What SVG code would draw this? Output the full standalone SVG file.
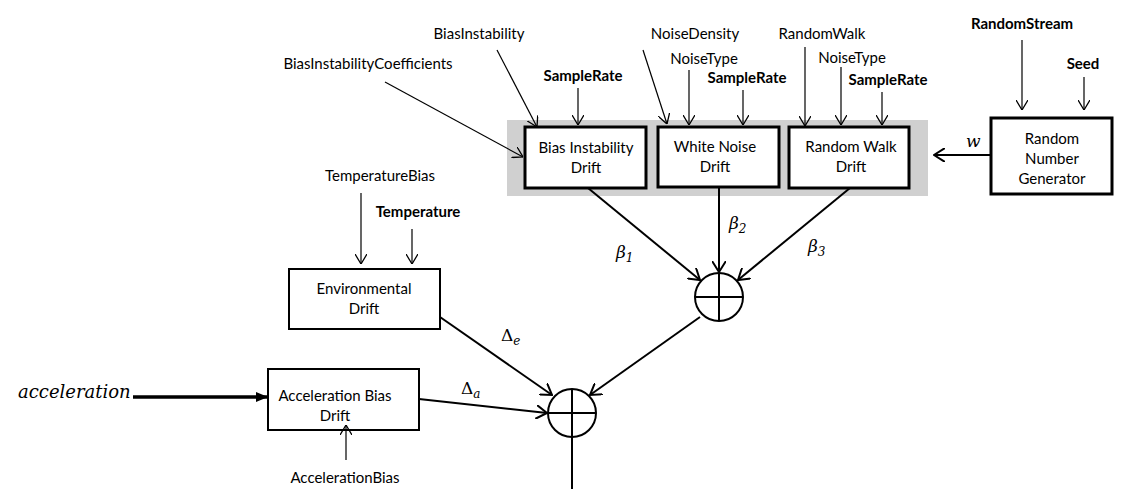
<svg xmlns="http://www.w3.org/2000/svg" width="1123" height="489" viewBox="0 0 1123 489">
<style>
.t{font-family:Lato,"Liberation Sans",sans-serif;font-size:15px;fill:#000;text-anchor:middle}
.b{font-weight:bold}
.box{fill:#fff;stroke:#000;stroke-width:3}
.box2{fill:#fff;stroke:#000;stroke-width:2}
.thin{stroke:#000;stroke-width:1.2;fill:none;marker-end:url(#a1)}
.thick{stroke:#000;stroke-width:2;fill:none;marker-end:url(#a2)}
.m{font-family:"DejaVu Serif","Liberation Serif",serif;font-style:italic;font-size:17px;fill:#000}
.sub{font-size:12px;font-style:italic}
.sum{fill:#fff;stroke:#000;stroke-width:2}
</style>
<defs>
<marker id="a1" viewBox="0 0 10 12" refX="10" refY="6" markerWidth="10" markerHeight="12" orient="auto" markerUnits="userSpaceOnUse"><path d="M0,0 L10,6 L0,12" fill="none" stroke="#000" stroke-width="1.3"/></marker>
<marker id="a2" viewBox="0 0 12 14" refX="11" refY="7" markerWidth="12" markerHeight="14" orient="auto" markerUnits="userSpaceOnUse"><path d="M0,0 L11,7 L0,14" fill="none" stroke="#000" stroke-width="2"/></marker>
<marker id="a3" viewBox="0 0 12 12" refX="12" refY="6" markerWidth="12" markerHeight="12" orient="auto" markerUnits="userSpaceOnUse"><path d="M0,1 L12,6 L0,11 z" fill="#000"/></marker>
</defs>
<rect x="0" y="0" width="1123" height="489" fill="#fff"/>
<rect x="507" y="120" width="421" height="76" fill="#d0d0d0"/>

<g id="bias-instability"><rect class="box" x="525" y="127" width="121" height="61"/><text class="t" x="586" y="153">Bias Instability</text><text class="t" x="586" y="173">Drift</text></g>
<g id="white-noise"><rect class="box" x="658" y="127" width="121" height="60"/><text class="t" x="715" y="152">White Noise</text><text class="t" x="715" y="172">Drift</text></g>
<g id="random-walk"><rect class="box" x="789" y="127" width="120" height="61"/><text class="t" x="851" y="152">Random Walk</text><text class="t" x="851" y="172">Drift</text></g>
<g id="rng"><rect class="box" x="991" y="118" width="121" height="76"/><text class="t" x="1052" y="144">Random</text><text class="t" x="1052" y="164">Number</text><text class="t" x="1052" y="184">Generator</text></g>
<g id="environmental"><rect class="box2" x="289" y="269" width="151" height="60"/><text class="t" x="364" y="294">Environmental</text><text class="t" x="364" y="314">Drift</text></g>
<g id="acceleration-bias"><rect class="box2" x="268" y="369" width="151" height="61"/><text class="t" x="335" y="401">Acceleration Bias</text><text class="t" x="335" y="421">Drift</text></g>
<g id="sum1"><circle class="sum" cx="719" cy="297" r="24"/><path d="M695,297 H743 M719,273 V321" stroke="#000" stroke-width="2"/></g>
<g id="sum2"><circle class="sum" cx="572" cy="413" r="24"/><path d="M548,413 H596 M572,389 V437" stroke="#000" stroke-width="2"/></g>

<g id="labels">
<text class="t" x="368" y="69">BiasInstabilityCoefficients</text>
<text class="t" x="479" y="39">BiasInstability</text>
<text class="t b" x="583" y="81">SampleRate</text>
<text class="t" x="695" y="39">NoiseDensity</text>
<text class="t" x="704" y="64">NoiseType</text>
<text class="t b" x="747" y="83">SampleRate</text>
<text class="t" x="822" y="39">RandomWalk</text>
<text class="t" x="852" y="63">NoiseType</text>
<text class="t b" x="888" y="85">SampleRate</text>
<text class="t b" x="1022" y="29">RandomStream</text>
<text class="t b" x="1083" y="69">Seed</text>
<text class="t" x="380" y="181">TemperatureBias</text>
<text class="t b" x="418" y="217">Temperature</text>
<text class="t" x="345" y="483">AccelerationBias</text>
<text class="m" x="18" y="398" style="font-size:18px">acceleration</text>
<text class="m" x="966" y="147">w</text>
<text class="m" x="616" y="258">β<tspan class="sub" dy="4">1</tspan></text>
<text class="m" x="729" y="229">β<tspan class="sub" dy="4">2</tspan></text>
<text class="m" x="808" y="252">β<tspan class="sub" dy="4">3</tspan></text>
<text class="m" x="501" y="341" style="font-style:normal">Δ<tspan class="sub" dy="4">e</tspan></text>
<text class="m" x="461" y="394" style="font-style:normal">Δ<tspan class="sub" dy="4">a</tspan></text>
</g>

<g id="connectors">
<line class="thin" x1="385" y1="82" x2="523" y2="157"/>
<line class="thin" x1="497" y1="50" x2="537" y2="127"/>
<line class="thin" x1="578" y1="88" x2="578" y2="125"/>
<line class="thin" x1="643" y1="50" x2="667" y2="124"/>
<line class="thin" x1="689" y1="70" x2="689" y2="125"/>
<line class="thin" x1="743" y1="90" x2="743" y2="125"/>
<line class="thin" x1="805" y1="47" x2="805" y2="126"/>
<line class="thin" x1="841" y1="67" x2="841" y2="125"/>
<line class="thin" x1="882" y1="92" x2="882" y2="125"/>
<line class="thin" x1="1022" y1="40" x2="1022" y2="110"/>
<line class="thin" x1="1084" y1="77" x2="1084" y2="110"/>
<line class="thin" x1="361" y1="193" x2="361" y2="264"/>
<line class="thin" x1="412" y1="229" x2="412" y2="264"/>
<line class="thin" x1="346" y1="460" x2="346" y2="425"/>
<line class="thick" x1="991" y1="155" x2="934" y2="155"/>
<line class="thick" x1="588" y1="188" x2="700" y2="280"/>
<line class="thick" x1="719" y1="188" x2="719" y2="272"/>
<line class="thick" x1="850" y1="188" x2="738" y2="280"/>
<line class="thick" x1="440" y1="317" x2="552" y2="395"/>
<line class="thick" x1="419" y1="399" x2="547" y2="413"/>
<line class="thick" x1="700" y1="317" x2="590" y2="395"/>
<line x1="572" y1="437" x2="572" y2="489" stroke="#000" stroke-width="2"/>
<line x1="133" y1="397" x2="268" y2="397" stroke="#000" stroke-width="3.5" marker-end="url(#a3)"/>
</g>
</svg>
